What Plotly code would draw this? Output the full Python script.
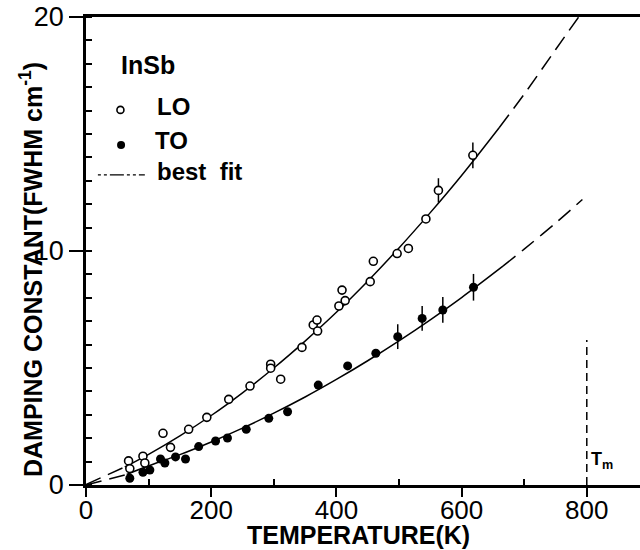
import plotly.graph_objects as go

# measured damping constants (FWHM, cm^-1) vs temperature (K)
lo_t = [68, 70, 91, 94, 123, 135, 164, 193, 228, 262, 295, 295, 311, 345, 363,
        369, 370, 404, 409, 414, 454, 459, 497, 515, 543, 563, 618]
lo_y = [1.03, 0.70, 1.23, 0.94, 2.21, 1.61, 2.38, 2.89, 3.66, 4.23, 5.16, 4.99,
        4.52, 5.88, 6.84, 7.05, 6.58, 7.65, 8.33, 7.88, 8.69, 9.56, 9.89, 10.11,
        11.37, 12.59, 14.09]
lo_err = [0] * 25 + [0.52, 0.55]

to_t = [70, 91, 102, 119, 126, 143, 159, 180, 207, 226, 256, 292, 322, 371,
        418, 463, 498, 537, 570, 619]
to_y = [0.29, 0.54, 0.64, 1.11, 0.94, 1.20, 1.11, 1.64, 1.88, 2.01, 2.38, 2.85,
        3.13, 4.27, 5.09, 5.63, 6.34, 7.12, 7.48, 8.45]
to_err = [0] * 16 + [0.53, 0.53, 0.55, 0.57]

# best fit curves
lo_fit_t = [62, 100, 150, 200, 250, 300, 350, 400, 450, 500, 550, 600, 660]
lo_fit_y = [0.77, 1.31, 2.10, 2.97, 3.94, 5.00, 6.15, 7.38, 8.71, 10.13, 11.64, 13.23, 15.27]
lo_low_t = [0, 62]
lo_low_y = [0.02, 0.77]
lo_ext_t = [660, 700, 750, 787]
lo_ext_y = [15.27, 16.70, 18.60, 20.0]

to_fit_t = [65, 100, 150, 200, 250, 300, 350, 400, 450, 500, 550, 600, 666]
to_fit_y = [0.45, 0.82, 1.30, 1.84, 2.43, 3.07, 3.76, 4.51, 5.31, 6.16, 7.06, 8.01, 9.35]
to_low_t = [0, 65]
to_low_y = [0.0, 0.45]
to_ext_t = [666, 700, 750, 793]
to_ext_y = [9.35, 10.08, 11.19, 12.2]

t_melt = 800
t_melt_top = 6.2

FONT = "Liberation Sans, Arial, sans-serif"
LINE = dict(color="black", width=1.5)
DASHED = dict(color="black", width=1.5, dash="16px,8px")

# plot box in window pixels
X0, Y0, Y1, XR = 86, 485, 17, 640
PW, PH = XR - X0, Y0 - Y1

fig = go.Figure()

for t, y, ln in [(lo_fit_t, lo_fit_y, LINE), (lo_low_t, lo_low_y, DASHED),
                 (lo_ext_t, lo_ext_y, DASHED), (to_fit_t, to_fit_y, LINE),
                 (to_low_t, to_low_y, DASHED), (to_ext_t, to_ext_y, DASHED)]:
    fig.add_trace(go.Scatter(x=t, y=y, mode="lines", line=ln, line_shape="spline",
                             hoverinfo="skip", showlegend=False))

fig.add_trace(go.Scatter(
    x=lo_t, y=lo_y, mode="markers", name="LO",
    marker=dict(symbol="circle", size=8, color="white", line=dict(color="black", width=1.6)),
    error_y=dict(type="data", array=lo_err, width=0, thickness=1.5, color="black"),
    showlegend=False,
))
fig.add_trace(go.Scatter(
    x=to_t, y=to_y, mode="markers", name="TO",
    marker=dict(symbol="circle", size=9, color="black"),
    error_y=dict(type="data", array=to_err, width=0, thickness=1.5, color="black"),
    showlegend=False,
))

# melting temperature marker
fig.add_trace(go.Scatter(x=[t_melt, t_melt], y=[0, t_melt_top], mode="lines",
                         line=dict(color="black", width=1.5, dash="8px,5px"),
                         hoverinfo="skip", showlegend=False))

# hand-drawn key
fig.add_trace(go.Scatter(x=[55], y=[16.03], mode="markers",
                         marker=dict(size=7, color="white", line=dict(color="black", width=1.6)),
                         hoverinfo="skip", showlegend=False))
fig.add_trace(go.Scatter(x=[56], y=[14.53], mode="markers",
                         marker=dict(size=8, color="black"),
                         hoverinfo="skip", showlegend=False))
fig.add_trace(go.Scatter(x=[19, 94], y=[13.25, 13.25], mode="lines",
                         line=dict(color="black", width=1.3, dash="3px,3px,3px,3px,14px,3px"),
                         hoverinfo="skip", showlegend=False))

notes = [
    (52, 17.95, "InSb", 25),
    (110, 16.17, "LO", 24),
    (107, 14.74, "TO", 24),
    (110, 13.39, "best  fit", 24),
    (803, 1.03, "T<sub>m</sub>", 18),
]
for x, y, txt, sz in notes:
    fig.add_annotation(x=x, y=y, text=f"<b>{txt}</b>", showarrow=False,
                       xanchor="left", yanchor="middle",
                       font=dict(family=FONT, size=sz, color="black"))

fig.add_annotation(
    xref="paper", yref="paper", x=(31 - X0) / PW, y=(Y0 - 270) / PH,
    text="<b>DAMPING CONSTANT(FWHM cm<sup>-1</sup>)</b>", textangle=-90,
    showarrow=False, xanchor="center", yanchor="middle",
    font=dict(family=FONT, size=25, color="black"),
)
fig.add_annotation(
    xref="paper", yref="paper", x=(358 - X0) / PW, y=(Y0 - 535) / PH,
    text="<b>TEMPERATURE(K)</b>", showarrow=False,
    xanchor="center", yanchor="middle",
    font=dict(family=FONT, size=25, color="black"),
)

fig.update_xaxes(
    range=[0, 885], tickvals=[0, 200, 400, 600, 800],
    ticks="outside", ticklen=9, tickwidth=2, tickcolor="black",
    minor=dict(tickvals=[100, 300, 500, 700], ticks="inside", ticklen=6,
               tickwidth=2, tickcolor="black"),
    showline=True, linewidth=2.5, linecolor="black", mirror=True,
    showgrid=False, zeroline=False, automargin=False, ticklabelstandoff=-9,
    tickfont=dict(family=FONT, size=26, color="black"),
)
fig.update_yaxes(
    range=[0, 20], tickvals=[0, 10, 20],
    ticks="outside", ticklen=14, tickwidth=2, tickcolor="black",
    minor=dict(dtick=1, ticks="inside", ticklen=6, tickwidth=2, tickcolor="black"),
    showline=True, linewidth=2.5, linecolor="black",
    showgrid=False, zeroline=False, automargin=False,
    tickfont=dict(family=FONT, size=27, color="black"),
)

fig.update_layout(
    width=640, height=550,
    margin=dict(l=X0, r=640 - XR, t=Y1, b=550 - Y0),
    paper_bgcolor="white", plot_bgcolor="white",
    font=dict(family=FONT, color="black"),
)

# drop the default 8px page margin so the figure sits at the window corner
fig.write_html("out.html", config={"displayModeBar": False},
               post_script="document.body.style.margin = '0px';")
